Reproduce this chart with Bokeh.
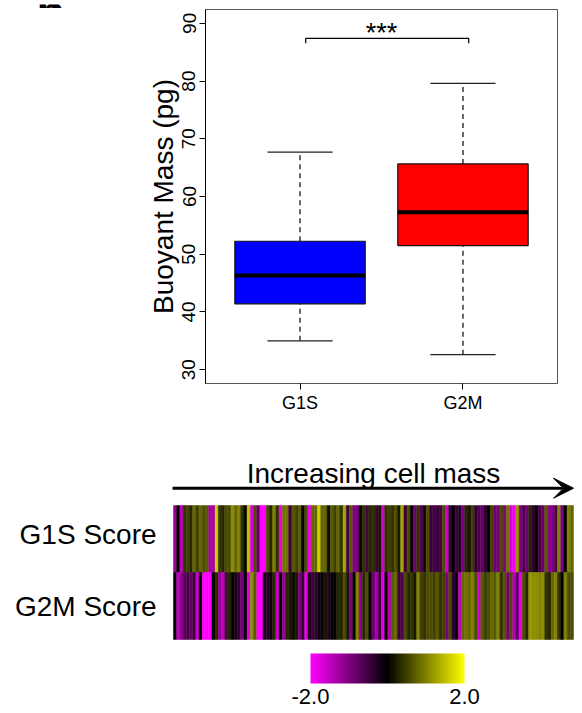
import numpy as np
from bokeh.plotting import figure
from bokeh.models import (Range1d, FixedTicker, LinearColorMapper, ColorBar,
                          Arrow, VeeHead, ColumnDataSource, PrintfTickFormatter)
from bokeh.transform import transform, dodge
from bokeh.core.properties import value
from bokeh.embed import file_html
from bokeh.resources import INLINE

# ---------------- data ----------------
panel_tag = "b."
groups = ["G1S", "G2M"]
group_pos = [1, 2]
box_colors = ["#0000FF", "#FF0000"]
whisker_low = [35.0, 32.6]
q1 = [41.4, 51.5]
medians = [46.3, 57.25]
q3 = [52.25, 65.65]
whisker_high = [67.7, 79.6]
y_ticks = [30, 40, 50, 60, 70, 80, 90]
sig_label = "***"
sig_span = [1.035, 2.035]
sig_y = 87.4
sig_drop = 0.85

g1s_score = [
    -1.2, 0.0, -1.5, 0.4, 0.5, 0.3, 0.8, 0.5, 0.8, 0.6,
    0.7, -1.3, -1.3, 1.6, 0.4, 0.3, 0.6, 0.6, 1.1, 0.8,
    1.0, 0.4, 0.0, 1.5, -1.7, 0.6, -0.8, -2.0, -2.0, 0.6,
    0.3, 1.0, 0.4, -1.8, 0.9, 0.9, -0.5, 0.7, 0.5, 0.7,
    0.0, 0.6, -1.9, 0.8, 0.8, 1.6, 0.8, 0.8, 0.1, 0.7,
    0.5, 0.8, 0.4, 1.3, -0.5, 0.7, -1.0, -1.0, 0.0, 0.4,
    -0.6, 0.3, 0.4, -0.5, 0.2,
    -1.6, 0.4, 0.5, 0.4, 0.6, 0.2, 1.3, -0.5, 0.6, 0.0,
    -0.9, 0.4, -0.7, 0.1, 0.6, -0.5, -0.5, -0.5, -0.5, 0.6,
    -1.6, -0.4, 0.0, -0.5, -0.3, -1.0, 0.3, 0.2, 0.5, -0.4,
    -0.6, -0.8, -0.4, 0.0, 0.5, -0.9, -0.9, 0.6, -1.0, 0.9,
    -1.7, -1.9, 1.2, -1.0, -0.6, -0.9, 0.3, -0.4, 0.0, -0.6,
    -0.8, 0.7, -1.1, -1.0, -0.6, 1.0, -1.0, 0.0, 1.0, 0.8,
]
g2m_score = [
    0.0, -1.5, -1.1, -0.7, -0.6, -0.8, -0.5, -1.6, 0.0, -2.0,
    -2.0, -2.0, 0.0, 0.3, -1.2, -1.5, -0.6, 0.3, 0.0, -0.2,
    -0.4, -1.0, 0.0, -1.7, 1.1, 0.7, -2.0, -2.0, -0.2, -0.3,
    -0.1, 0.3, -1.6, 0.0, -1.2, 0.3, 0.2, 0.1, 0.2, -1.0,
    -0.4, -1.8, -0.3, -0.4, -0.4, -0.1, -0.1, 0.2, -0.3, 0.0,
    0.0, 0.3, 0.3, 0.6, 0.2, -1.0, 0.0, 1.0, -1.1, 0.3,
    0.6, 0.0, -0.9, -1.3, -0.5,
    -1.8, 0.0, -1.4, 0.7, 0.8, -0.5, -0.6, 0.6, 0.3, 0.4,
    0.2, 1.0, 0.5, 0.4, 0.6, 0.6, 0.5, 0.7, 0.4, 0.5,
    -1.0, 0.6, -0.4, 0.0, -1.5, 0.8, 0.9, 0.8, 1.0, 0.6,
    -1.6, 0.7, 0.5, 0.6, 0.8, 0.7, 1.0, 0.4, 0.7, -0.9,
    0.6, -1.4, -0.8, -1.8, 0.6, 0.3, 1.2, 1.1, 1.1, 1.0,
    1.1, 0.4, 0.3, 0.8, 1.0, 0.4, 0.0, 1.0, 0.6, 0.6,
]
row_labels = ["G1S Score", "G2M Score"]
heat_title = "Increasing cell mass"
cbar_ticks = [-2.0, 2.0]
cbar_low, cbar_high = -2.0, 2.0

FONT = "Liberation Sans"

# ---------------- panel tag strip (top edge, text cut off as in the figure) ----------------
p0 = figure(width=582, height=8, x_range=Range1d(0, 582), y_range=Range1d(0, 8),
            output_backend="svg", toolbar_location=None, min_border=0,
            x_axis_location=None, y_axis_location=None)
p0.grid.visible = False
p0.outline_line_color = None
p0.background_fill_color = "white"
p0.border_fill_color = "white"
p0.text(x=[36], y=[0.3], text=[panel_tag], text_align="left", text_baseline="alphabetic",
        text_font=value(FONT), text_font_size="46px", text_font_style="bold",
        text_color="black")

# ---------------- box plot ----------------
p1 = figure(width=582, height=412, x_range=Range1d(0.42, 2.58), y_range=Range1d(27.6, 92.4),
            output_backend="svg", toolbar_location=None,
            min_border_left=205, min_border_right=25, min_border_top=1, min_border_bottom=37)
p1.grid.visible = False
p1.outline_line_color = "#555555"
p1.outline_line_width = 1
p1.background_fill_color = "white"
p1.border_fill_color = "white"

ya = p1.yaxis[0]
ya.ticker = FixedTicker(ticks=y_ticks)
ya.major_label_orientation = "vertical"
ya.major_label_text_font = FONT
ya.major_label_text_font_size = "19px"
ya.major_label_text_color = "black"
ya.major_label_standoff = 4
ya.major_tick_out = 6
ya.major_tick_in = 0
ya.minor_tick_line_color = None
ya.axis_line_color = "black"
ya.axis_label = "Buoyant Mass (pg)"
ya.axis_label_text_font = FONT
ya.axis_label_text_font_size = "28px"
ya.axis_label_text_font_style = "normal"
ya.axis_label_text_color = "black"
ya.axis_label_standoff = 1

xa = p1.xaxis[0]
xa.ticker = FixedTicker(ticks=group_pos)
xa.major_label_overrides = dict(zip(group_pos, groups))
xa.major_label_text_font = FONT
xa.major_label_text_font_size = "18px"
xa.major_label_text_color = "black"
xa.major_label_standoff = 3
xa.major_tick_out = 6
xa.major_tick_in = 0
xa.minor_tick_line_color = None
xa.axis_line_color = None

BOX_W = 0.8
CAP_W = 0.4
src = ColumnDataSource(dict(x=group_pos, q1=q1, q3=q3, med=medians,
                            lo=whisker_low, hi=whisker_high, color=box_colors))
p1.segment(x0="x", y0="q3", x1="x", y1="hi", source=src, line_color="black",
           line_width=1.2, line_dash="5 4")
p1.segment(x0="x", y0="lo", x1="x", y1="q1", source=src, line_color="black",
           line_width=1.2, line_dash="5 4")
p1.segment(x0=dodge("x", -CAP_W / 2), x1=dodge("x", CAP_W / 2), y0="hi", y1="hi",
           source=src, line_color="#222222", line_width=1.3)
p1.segment(x0=dodge("x", -CAP_W / 2), x1=dodge("x", CAP_W / 2), y0="lo", y1="lo",
           source=src, line_color="#222222", line_width=1.3)
p1.vbar(x="x", width=BOX_W, bottom="q1", top="q3", source=src, fill_color="color",
        line_color="#111111", line_width=1.2)
p1.segment(x0=dodge("x", -BOX_W / 2), x1=dodge("x", BOX_W / 2), y0="med", y1="med",
           source=src, line_color="black", line_width=4)

p1.line(x=[sig_span[0], sig_span[0], sig_span[1], sig_span[1]],
        y=[sig_y - sig_drop, sig_y, sig_y, sig_y - sig_drop],
        line_color="black", line_width=1.2)
p1.text(x=[1.5], y=[88.25], text=[sig_label], text_align="center",
        text_baseline="alphabetic", text_font=value(FONT), text_font_size="27px",
        text_color="black")

# ---------------- heatmap ----------------
p2 = figure(width=582, height=293, x_range=Range1d(-54.0625, 127.8125),
            y_range=Range1d(-1.6045, 2.7687), output_backend="svg",
            toolbar_location=None, min_border=0,
            x_axis_location=None, y_axis_location=None)
p2.grid.visible = False
p2.outline_line_color = None
p2.background_fill_color = "white"
p2.border_fill_color = "white"

half = 128
palette = ["#%02x00%02x" % (round(255 * (1 - i / (half - 1))), round(255 * (1 - i / (half - 1))))
           for i in range(half)]
palette += ["#%02x%02x00" % (round(255 * i / (half - 1)), round(255 * i / (half - 1)))
            for i in range(half)]
mapper = LinearColorMapper(palette=palette, low=cbar_low, high=cbar_high)

hx, hy, hv = [], [], []
for row_y, series in ((1, g1s_score), (0, g2m_score)):
    for i, v in enumerate(series):
        hx.append(i + 0.5)
        hy.append(row_y)
        hv.append(v)
hsrc = ColumnDataSource(dict(x=hx, y=hy, v=hv))
p2.rect(x="x", y="y", width=1, height=1, source=hsrc,
        fill_color=transform("v", mapper), line_color=transform("v", mapper), line_width=0.5)

p2.text(x=[-5.3, -5.3], y=[1.06, 0.0], text=row_labels, text_align="right",
        text_baseline="middle", text_font=value(FONT), text_font_size="28px",
        text_color="black")
p2.text(x=[62.5], y=[1.978], text=[heat_title], text_align="center",
        text_baseline="alphabetic", text_font=value(FONT), text_font_size="28px",
        text_color="black")
p2.add_layout(Arrow(end=VeeHead(size=20, fill_color="black", line_color="black"),
                    x_start=-0.3, y_start=1.758, x_end=125, y_end=1.758,
                    line_width=3, line_color="black"))

cb = ColorBar(color_mapper=mapper, orientation="horizontal", location=(310, 7),
              width=154, height=30, ticker=FixedTicker(ticks=cbar_ticks),
              formatter=PrintfTickFormatter(format="%.1f"),
              major_label_text_font=FONT, major_label_text_font_size="22px",
              major_label_text_color="black", major_tick_line_color=None,
              minor_tick_line_color=None, bar_line_color=None, padding=0,
              background_fill_alpha=0, border_line_color=None, label_standoff=5)
p2.add_layout(cb)

open("out.html", "w").write(file_html([p0, p1, p2], INLINE))
